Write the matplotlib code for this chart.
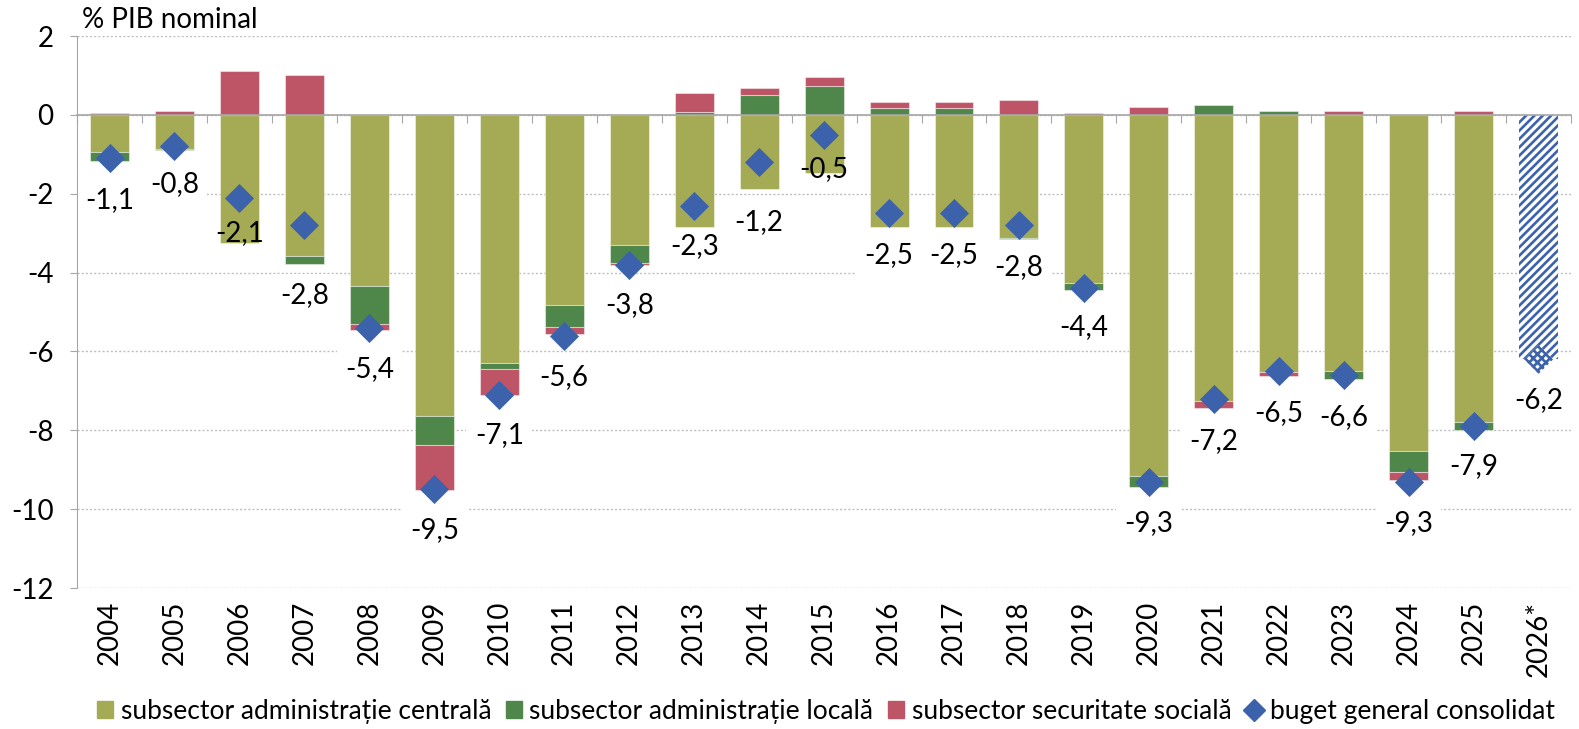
import numpy as np
import matplotlib.pyplot as plt
from matplotlib.patches import Patch
from matplotlib.lines import Line2D

plt.rcParams['font.family'] = ['Lato', 'DejaVu Sans']
plt.rcParams['hatch.linewidth'] = 1.9
plt.rcParams['axes.unicode_minus'] = False

years = ['2004', '2005', '2006', '2007', '2008', '2009', '2010', '2011', '2012', '2013', '2014', '2015',
         '2016', '2017', '2018', '2019', '2020', '2021', '2022', '2023', '2024', '2025', '2026*']

# % PIB, per subsector (2026* only has the consolidated projection)
central = [-0.95, -0.87, -3.25, -3.57, -4.33, -7.65, -6.30, -4.82, -3.30, -2.85, -1.89, -1.47,
           -2.85, -2.85, -3.12, -4.26, -9.17, -7.25, -6.53, -6.49, -8.53, -7.80, 0.0]
local = [-0.21, -0.03, 0.0, -0.22, -0.98, -0.72, -0.14, -0.57, -0.46, 0.08, 0.50, 0.73,
         0.18, 0.18, -0.04, -0.17, -0.27, 0.24, 0.10, -0.22, -0.54, -0.18, 0.0]
social = [0.05, 0.10, 1.11, 1.01, -0.14, -1.15, -0.67, -0.18, -0.04, 0.47, 0.19, 0.23,
          0.14, 0.14, 0.37, 0.04, 0.19, -0.18, -0.09, 0.10, -0.18, 0.10, 0.0]
general = [-1.1, -0.8, -2.1, -2.8, -5.4, -9.5, -7.1, -5.6, -3.8, -2.3, -1.2, -0.5,
           -2.5, -2.5, -2.8, -4.4, -9.3, -7.2, -6.5, -6.6, -9.3, -7.9, -6.2]

# where each value label sits, relative to its diamond (data units)
label_off = [-1.07, -0.95, -0.9, -1.77, -1.05, -1.02, -1.03, -1.06, -1.03, -1.03, -1.52, -0.87,
             -1.05, -1.05, -1.05, -0.97, -1.05, -1.06, -1.07, -1.07, -1.05, -1.01, -1.04]

c_central = '#A5AA55'
c_local = '#4F8649'
c_social = '#BD5566'
c_blue = '#3C62AC'
c_axis = '#A6A6A6'
fs = 20

fig = plt.figure(figsize=(15.79, 7.29), dpi=100)
ax = fig.add_axes([0.0488, 0.1934, 0.9462, 0.7572])

x = np.arange(len(years))
w = 0.6
pos = np.zeros(len(years))
neg = np.zeros(len(years))
for vals, col in [(central, c_central), (local, c_local), (social, c_social)]:
    v = np.array(vals)
    bottom = np.where(v >= 0, pos, neg)
    ax.bar(x, v, w, bottom=bottom, color=col, edgecolor=(1, 1, 1, 0.45), linewidth=0.8, zorder=2)
    pos = pos + np.clip(v, 0, None)
    neg = neg + np.clip(v, None, 0)

# projected 2026 total, hatched
ax.bar(x[-1], general[-1], w, facecolor='white', edgecolor=c_blue, hatch='////', linewidth=0, zorder=2)

ax.scatter(x[:-1], general[:-1], marker='D', s=220, color=c_blue, linewidth=0, zorder=3)
ax.scatter(x[-1:], general[-1:], marker='D', s=220, facecolor='white', edgecolor=c_blue,
           hatch='xxxx', linewidth=0, zorder=3)

for xi, g, off in zip(x, general, label_off):
    s = f'{g:.1f}'.replace('.', ',')
    ax.text(xi, g + off, s, ha='center', va='center', fontsize=fs, color='none',
            bbox=dict(facecolor='white', edgecolor='none', pad=6), zorder=1.5)
    ax.text(xi, g + off, s, ha='center', va='center', fontsize=fs, color='black', zorder=4)

ax.set_xlim(-0.5, len(years) - 0.5)
ax.set_ylim(-12, 2)
ax.set_yticks(np.arange(-12, 3, 2))
ax.yaxis.grid(True, linestyle=(0, (1.5, 1.5)), color='#BFBFBF', linewidth=1)
ax.set_axisbelow(True)
ax.tick_params(axis='y', labelsize=fs, length=5, color=c_axis, pad=12)

for sp in ['top', 'right']:
    ax.spines[sp].set_visible(False)
ax.spines['left'].set_color(c_axis)
ax.spines['bottom'].set_position(('data', 0))
ax.spines['bottom'].set_color(c_axis)
ax.spines['bottom'].set_linewidth(1.2)
ax.set_xticks(np.arange(-0.5, len(years), 1.0))
ax.tick_params(axis='x', length=6, color=c_axis, labelbottom=False)

sec = ax.secondary_xaxis('bottom')
sec.set_xticks(x, labels=years, rotation=90)
sec.tick_params(length=0, labelsize=fs, pad=9)
sec.spines['bottom'].set_visible(False)

fig.text(0.052, 0.972, '% PIB nominal', fontsize=fs, va='center', ha='left')

handles = [
    Patch(color=c_central, label='subsector administrație centrală'),
    Patch(color=c_local, label='subsector administrație locală'),
    Patch(color=c_social, label='subsector securitate socială'),
    Line2D([], [], marker='D', linestyle='none', color=c_blue, markersize=11, label='buget general consolidat'),
]
fig.legend(handles=handles, loc='center', ncol=4, frameon=False, fontsize=19,
           bbox_to_anchor=(0.523, 0.024), handlelength=0.6, handleheight=0.6,
           handletextpad=0.3, columnspacing=0.55, borderpad=0)

fig.savefig('out.png')
